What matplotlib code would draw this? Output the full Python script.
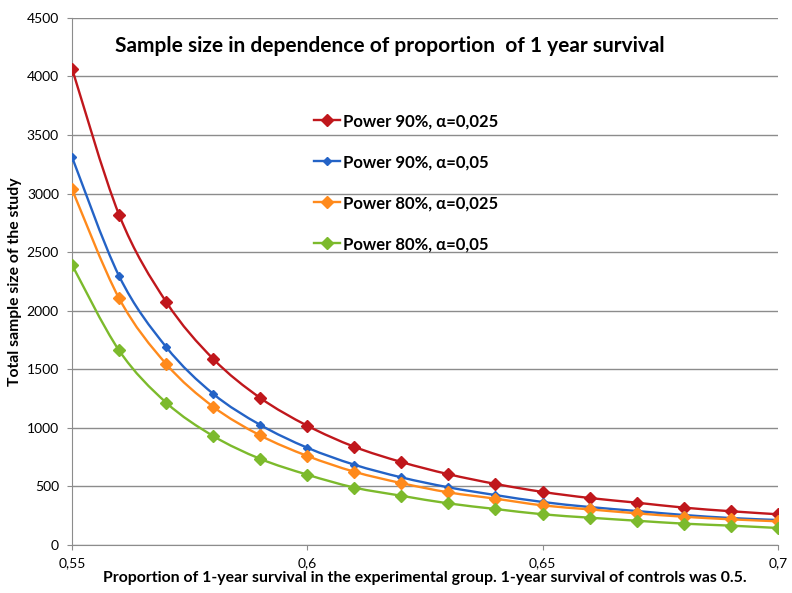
import numpy as np
import matplotlib
matplotlib.use("Agg")
import matplotlib.pyplot as plt
from matplotlib.path import Path
from matplotlib.patches import PathPatch

plt.rcParams["font.family"] = ["Lato", "DejaVu Sans"]

# proportion of 1-year survival in the experimental group
props = [0.55, 0.56, 0.57, 0.58, 0.59, 0.60, 0.61, 0.62,
         0.63, 0.64, 0.65, 0.66, 0.67, 0.68, 0.69, 0.70]

p90_a025 = [4065, 2818, 2075, 1588, 1255, 1018, 838, 708,
            604, 521, 453, 401, 361, 319, 288, 262]
p90_a05 = [3310, 2295, 1690, 1290, 1025, 830, 685, 577,
           492, 426, 367, 324, 290, 256, 230, 213]
p80_a025 = [3035, 2105, 1545, 1180, 935, 760, 625, 528,
            449, 395, 338, 304, 270, 241, 219, 202]
p80_a05 = [2390, 1660, 1215, 930, 735, 600, 490, 420,
           355, 307, 262, 233, 207, 182, 165, 145]

series = [
    ("Power 90%, α=0,025", p90_a025, "#C0171C", 6.5),
    ("Power 90%, α=0,05", p90_a05, "#2463C6", 4.5),
    ("Power 80%, α=0,025", p80_a025, "#FF8A1C", 6.5),
    ("Power 80%, α=0,05", p80_a05, "#7CBA2C", 6.5),
]

xticks = [0.55, 0.60, 0.65, 0.70]
xtick_labels = ["0,55", "0,6", "0,65", "0,7"]


def smooth_path(x, y, t=1 / 6):
    # Catmull-Rom style bezier through the data points (like Excel smoothed lines)
    x = np.asarray(x, float)
    y = np.asarray(y, float)
    verts = [(x[0], y[0])]
    codes = [Path.MOVETO]
    n = len(x)
    for i in range(n - 1):
        i0 = max(i - 1, 0)
        i3 = min(i + 2, n - 1)
        c1 = (x[i] + (x[i + 1] - x[i0]) * t, y[i] + (y[i + 1] - y[i0]) * t)
        c2 = (x[i + 1] - (x[i3] - x[i]) * t, y[i + 1] - (y[i3] - y[i]) * t)
        verts += [c1, c2, (x[i + 1], y[i + 1])]
        codes += [Path.CURVE4] * 3
    return Path(verts, codes)


fig = plt.figure(figsize=(7.92, 5.93), dpi=100)
ax = fig.add_axes([0.091, 0.081, 0.891, 0.889])

for name, vals, color, ms in series:
    ax.add_patch(PathPatch(smooth_path(props, vals), facecolor="none",
                           edgecolor=color, linewidth=1.7, zorder=3))
    ax.plot(props, vals, linestyle="none", marker="D", markersize=ms,
            color=color, zorder=4)
    # proxy for legend
    ax.plot([], [], color=color, linewidth=1.7, marker="D", markersize=ms,
            label=name)

ax.set_xlim(0.55, 0.70)
ax.set_ylim(0, 4500)
ax.set_yticks(range(0, 4501, 500))
ax.set_xticks(xticks)
ax.set_xticklabels(xtick_labels)
ax.yaxis.grid(True, color="#8c8c8c", linewidth=1.0)
ax.set_axisbelow(True)
for s in ["top", "right"]:
    ax.spines[s].set_visible(False)
for s in ["left", "bottom"]:
    ax.spines[s].set_color("#8c8c8c")
ax.tick_params(axis="both", colors="#8c8c8c", labelcolor="black",
               labelsize=10, length=3.5, direction="out")
ax.tick_params(axis="x", pad=5.5)
ax.tick_params(axis="y", pad=6)

ax.set_ylabel("Total sample size of the study", fontsize=11.3,
              fontweight="bold", labelpad=3)
ax.set_xlabel("Proportion of 1-year survival in the experimental group. "
              "1-year survival of controls was 0.5.", fontsize=11.4,
              fontweight="bold", labelpad=1)
fig.text(0.4925, 0.923, "Sample size in dependence of proportion  of 1 year survival",
         ha="center", va="center", fontsize=15, fontweight="bold")

ax.legend(loc="upper left", bbox_to_anchor=(0.333, 0.832), frameon=False,
          prop={"weight": "bold", "size": 12},
          labelspacing=1.5, handlelength=1.6, handletextpad=0.18,
          borderaxespad=0)

plt.savefig("out.png", dpi=100, facecolor="white")
print("saved out.png")
